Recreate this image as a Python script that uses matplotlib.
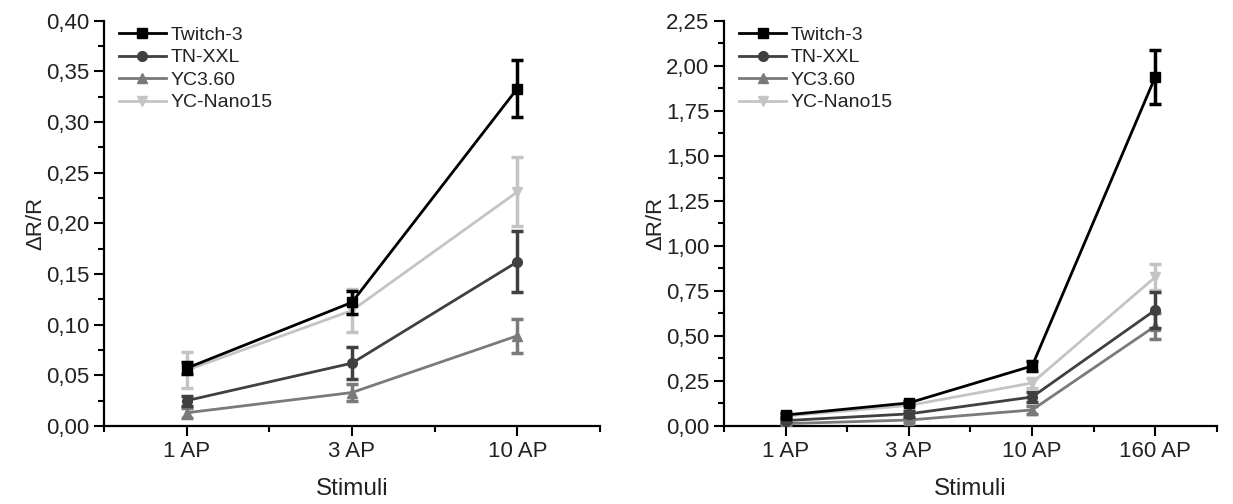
import matplotlib
matplotlib.use('Agg')
import matplotlib.pyplot as plt
from matplotlib.ticker import FuncFormatter, MultipleLocator

plt.rcParams['font.family'] = ['Liberation Sans', 'DejaVu Sans']

# dane
serije = ['Twitch-3', 'TN-XXL', 'YC3.60', 'YC-Nano15']
barve = ['#000000', '#404040', '#7a7a7a', '#c4c4c4']
markerji = ['s', 'o', '^', 'v']

stimuli_l = ['1 AP', '3 AP', '10 AP']
vrednosti_l = {
    'Twitch-3': [0.057, 0.122, 0.333],
    'TN-XXL': [0.025, 0.062, 0.162],
    'YC3.60': [0.013, 0.033, 0.089],
    'YC-Nano15': [0.055, 0.114, 0.231],
}
napake_l = {
    'Twitch-3': [0.006, 0.011, 0.028],
    'TN-XXL': [0.005, 0.016, 0.030],
    'YC3.60': [0.005, 0.008, 0.017],
    'YC-Nano15': [0.018, 0.021, 0.034],
}

stimuli_d = ['1 AP', '3 AP', '10 AP', '160 AP']
vrednosti_d = {
    'Twitch-3': [0.061, 0.128, 0.333, 1.939],
    'TN-XXL': [0.030, 0.067, 0.161, 0.644],
    'YC3.60': [0.013, 0.033, 0.089, 0.555],
    'YC-Nano15': [0.055, 0.114, 0.239, 0.827],
}
napake_d = {
    'Twitch-3': [0.010, 0.012, 0.030, 0.150],
    'TN-XXL': [0.008, 0.015, 0.030, 0.100],
    'YC3.60': [0.006, 0.010, 0.020, 0.070],
    'YC-Nano15': [0.015, 0.020, 0.030, 0.070],
}

vejica = FuncFormatter(lambda v, p: ('%.2f' % v).replace('.', ','))

fig = plt.figure(figsize=(12.33, 5.04), dpi=100)
ax1 = fig.add_axes([0.0843, 0.1548, 0.4023, 0.8042])
ax2 = fig.add_axes([0.5872, 0.1548, 0.3998, 0.8042])


def narisi(ax, stimuli, vrednosti, napake, ymax, korak):
    x = list(range(len(stimuli)))
    for i in range(len(serije)-1, -1, -1):
        s = serije[i]
        ax.errorbar(x, vrednosti[s], yerr=napake[s], color=barve[i], marker=markerji[i],
                    markersize=7, linewidth=2, elinewidth=2.5, capsize=4, capthick=2.5,
                    label=s, zorder=3+len(serije)-i)
    ax.set_xlim(-0.5, len(stimuli)-0.5)
    ax.set_ylim(0, ymax)
    ax.set_xticks(x)
    ax.set_xticklabels(stimuli)
    ax.xaxis.set_minor_locator(MultipleLocator(0.5))
    ax.yaxis.set_major_locator(MultipleLocator(korak))
    ax.yaxis.set_minor_locator(MultipleLocator(korak/2))
    ax.yaxis.set_major_formatter(vejica)
    for sp in ['top', 'right']:
        ax.spines[sp].set_visible(False)
    for sp in ['left', 'bottom']:
        ax.spines[sp].set_linewidth(1.6)
    ax.tick_params(which='major', length=7, width=1.5, labelsize=16, direction='out', labelcolor='#222222')
    ax.tick_params(which='minor', length=4, width=1.5, direction='out')
    ax.set_xlabel('Stimuli', fontsize=17.5, labelpad=12, color='#222222')
    ax.set_ylabel('ΔR/R', fontsize=16, labelpad=0, color='#222222')
    h, l = ax.get_legend_handles_labels()
    h = [hh[0] for hh in h][::-1]
    l = l[::-1]
    ax.legend(h, l, loc='upper left', frameon=False, fontsize=14, handlelength=2.4,
              labelspacing=0.25, handletextpad=0.25, borderaxespad=0.0,
              bbox_to_anchor=(0.015, 1.005), labelcolor='#222222')


narisi(ax1, stimuli_l, vrednosti_l, napake_l, 0.40, 0.05)
narisi(ax2, stimuli_d, vrednosti_d, napake_d, 2.25, 0.25)

fig.savefig('out.png', dpi=100)
